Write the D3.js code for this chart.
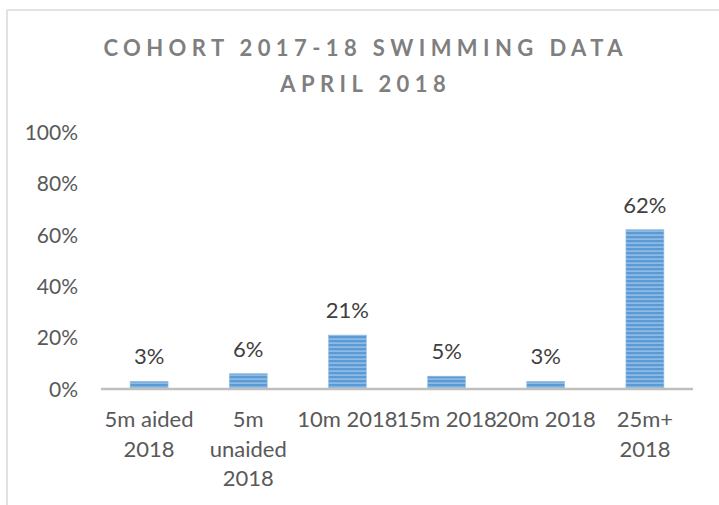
<!DOCTYPE html>
<html><head><meta charset="utf-8">
<script src="https://cdn.jsdelivr.net/npm/d3@7"></script>
<style>body{margin:0;background:#fff}svg{display:block}</style>
</head><body>
<svg id="c" width="719" height="505"></svg>
<script>
const categories = ["5m aided 2018","5m unaided 2018","10m 2018","15m 2018","20m 2018","25m+ 2018"];
const categoryLines = [["5m aided","2018"],["5m","unaided","2018"],["10m 2018"],["15m 2018"],["20m 2018"],["25m+","2018"]];
const values = [0.03,0.06,0.21,0.05,0.03,0.62];
const yTicks = [0,0.2,0.4,0.6,0.8,1.0];
const titleLines = ["COHORT 2017-18 SWIMMING DATA","APRIL 2018"];

const svg = d3.select("#c");
const font = "Lato, 'Open Sans', sans-serif";

// pattern
const defs = svg.append("defs");
const pat = defs.append("pattern").attr("id","stripes").attr("patternUnits","userSpaceOnUse")
  .attr("width",8).attr("height",4);
pat.append("rect").attr("width",8).attr("height",4).attr("fill","#5b9bd5");
pat.append("rect").attr("y",2.5).attr("width",8).attr("height",1.2).attr("fill","#a6c8ea");

// border
svg.append("line").attr("x1",7).attr("x2",7).attr("y1",10).attr("y2",505).attr("stroke","#d9d9d9").attr("stroke-width",1.5);
svg.append("line").attr("x1",7).attr("x2",719).attr("y1",10).attr("y2",10).attr("stroke","#d9d9d9").attr("stroke-width",1.5);

// title
const ls = 5.4;
svg.append("g").selectAll("text").data(titleLines).join("text")
  .attr("x",363+ls/2).attr("y",(d,i)=>56+i*36)
  .attr("text-anchor","middle").attr("fill","#7f7f7f")
  .attr("font-family",font).attr("font-weight","bold").attr("font-size",22)
  .attr("letter-spacing",ls).text(d=>d);

const x = d3.scaleBand().domain(categories).range([99.5,694.5]).paddingInner(0.617).paddingOuter(0.3085);
const y = d3.scaleLinear().domain([0,1]).range([389,132]);

// y axis labels
const yAxis = d3.axisLeft(y).tickValues(yTicks).tickFormat(d3.format(".0%")).tickSize(0).tickPadding(0);
const gy = svg.append("g").attr("transform","translate(78,0)").call(yAxis);
gy.select(".domain").remove();
gy.selectAll("text").attr("font-family",font).attr("font-size",21).attr("fill","#595959").attr("dy","0.35em");

// bars
svg.append("g").selectAll("rect").data(values).join("rect")
  .attr("x",(d,i)=>x(categories[i])).attr("width",x.bandwidth())
  .attr("y",d=>y(d)).attr("height",d=>y(0)-y(d))
  .attr("fill","url(#stripes)").attr("stroke","#9dc3e6").attr("stroke-width",0.6);

// x axis line
const xAxis = d3.axisBottom(x).tickSize(0).tickFormat("");
const gx = svg.append("g").attr("transform","translate(0,389)").call(xAxis);
gx.select(".domain").attr("stroke","#bfbfbf").attr("stroke-width",2.5)
  .attr("d","M101,0H693");

// category labels
categories.forEach((c,i)=>{
  const t = svg.append("text").attr("text-anchor","middle")
    .attr("font-family",font).attr("font-size",22).attr("fill","#595959");
  categoryLines[i].forEach((ln,j)=>{
    t.append("tspan").attr("x",x(c)+x.bandwidth()/2).attr("y",427+j*29.5).text(ln);
  });
});

// data labels
svg.append("g").selectAll("text").data(values).join("text")
  .attr("x",(d,i)=>x(categories[i])+x.bandwidth()/2).attr("y",d=>y(d)-17)
  .attr("text-anchor","middle").attr("font-family",font).attr("font-size",22).attr("fill","#404040")
  .text(d=>d3.format(".0%")(d));
</script>
</body></html>
